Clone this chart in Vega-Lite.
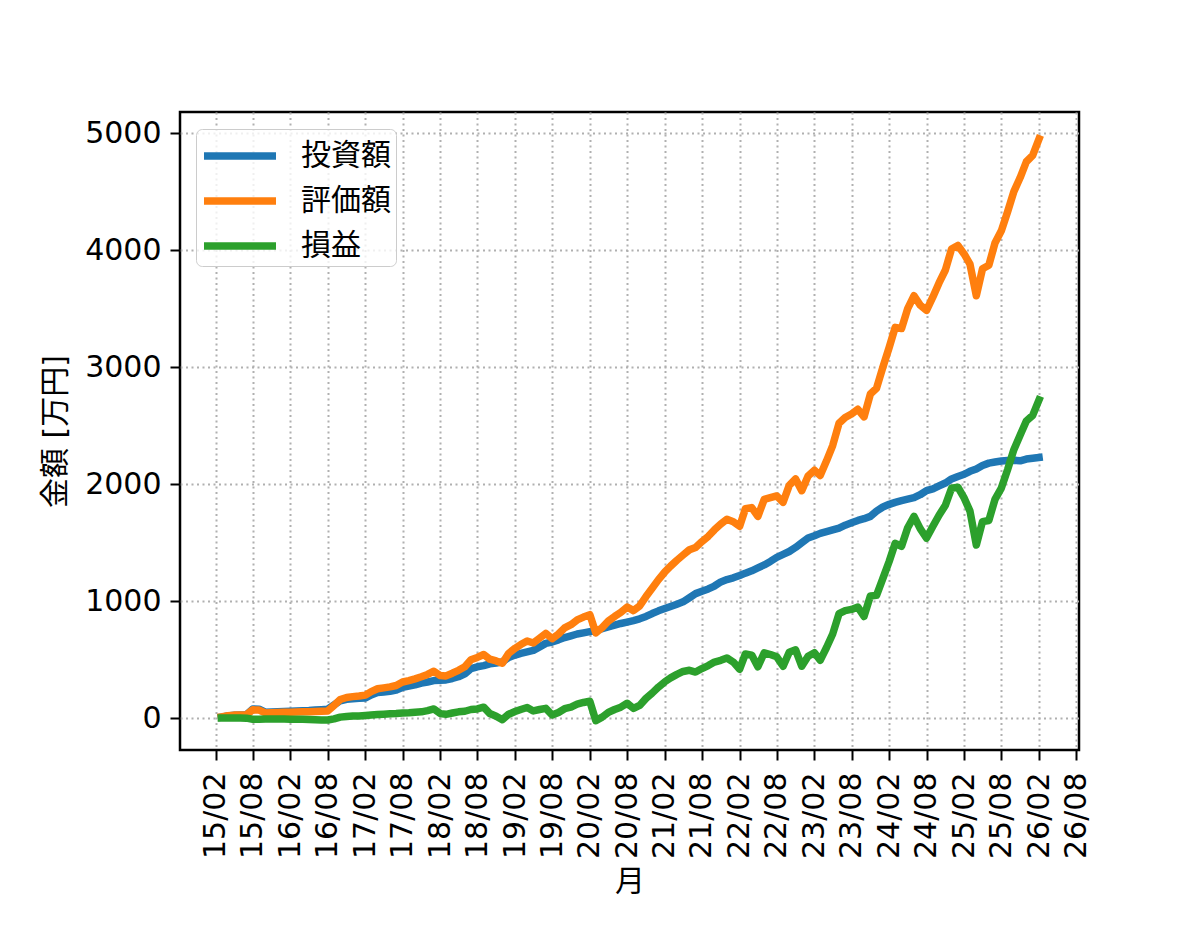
{
  "$schema": "https://vega.github.io/schema/vega-lite/v6.json",
  "width": 899,
  "height": 638,
  "autosize": "none",
  "padding": {"left": 180, "top": 112, "right": 121, "bottom": 188},
  "background": "white",
  "data": {
    "values": [
      {"date": "2015-03-01", "inv": 10, "val": 12, "pl": 2},
      {"date": "2015-04-01", "inv": 20, "val": 22, "pl": 2},
      {"date": "2015-05-01", "inv": 25, "val": 27, "pl": 2},
      {"date": "2015-06-01", "inv": 27, "val": 29, "pl": 2},
      {"date": "2015-07-01", "inv": 30, "val": 31, "pl": 1},
      {"date": "2015-08-01", "inv": 80, "val": 72, "pl": -8},
      {"date": "2015-09-01", "inv": 78, "val": 70, "pl": -8},
      {"date": "2015-10-01", "inv": 52, "val": 46, "pl": -6},
      {"date": "2015-11-01", "inv": 54, "val": 48, "pl": -6},
      {"date": "2015-12-01", "inv": 56, "val": 50, "pl": -6},
      {"date": "2016-01-01", "inv": 58, "val": 51, "pl": -7},
      {"date": "2016-02-01", "inv": 60, "val": 52, "pl": -8},
      {"date": "2016-03-01", "inv": 62, "val": 54, "pl": -8},
      {"date": "2016-04-01", "inv": 64, "val": 55, "pl": -9},
      {"date": "2016-05-01", "inv": 66, "val": 56, "pl": -10},
      {"date": "2016-06-01", "inv": 70, "val": 58, "pl": -12},
      {"date": "2016-07-01", "inv": 74, "val": 60, "pl": -14},
      {"date": "2016-08-01", "inv": 78, "val": 63, "pl": -15},
      {"date": "2016-09-01", "inv": 115, "val": 110, "pl": -5},
      {"date": "2016-10-01", "inv": 150, "val": 160, "pl": 10},
      {"date": "2016-11-01", "inv": 162, "val": 178, "pl": 16},
      {"date": "2016-12-01", "inv": 166, "val": 185, "pl": 19},
      {"date": "2017-01-01", "inv": 170, "val": 190, "pl": 20},
      {"date": "2017-02-01", "inv": 174, "val": 198, "pl": 24},
      {"date": "2017-03-01", "inv": 200, "val": 228, "pl": 28},
      {"date": "2017-04-01", "inv": 220, "val": 252, "pl": 32},
      {"date": "2017-05-01", "inv": 225, "val": 260, "pl": 35},
      {"date": "2017-06-01", "inv": 230, "val": 268, "pl": 38},
      {"date": "2017-07-01", "inv": 240, "val": 280, "pl": 40},
      {"date": "2017-08-01", "inv": 265, "val": 310, "pl": 45},
      {"date": "2017-09-01", "inv": 275, "val": 322, "pl": 47},
      {"date": "2017-10-01", "inv": 285, "val": 337, "pl": 52},
      {"date": "2017-11-01", "inv": 300, "val": 355, "pl": 55},
      {"date": "2017-12-01", "inv": 310, "val": 375, "pl": 65},
      {"date": "2018-01-01", "inv": 322, "val": 402, "pl": 80},
      {"date": "2018-02-01", "inv": 325, "val": 365, "pl": 40},
      {"date": "2018-03-01", "inv": 328, "val": 362, "pl": 34},
      {"date": "2018-04-01", "inv": 340, "val": 385, "pl": 45},
      {"date": "2018-05-01", "inv": 355, "val": 410, "pl": 55},
      {"date": "2018-06-01", "inv": 380, "val": 440, "pl": 60},
      {"date": "2018-07-01", "inv": 425, "val": 500, "pl": 75},
      {"date": "2018-08-01", "inv": 440, "val": 520, "pl": 80},
      {"date": "2018-09-01", "inv": 450, "val": 545, "pl": 95},
      {"date": "2018-10-01", "inv": 465, "val": 505, "pl": 40},
      {"date": "2018-11-01", "inv": 472, "val": 490, "pl": 18},
      {"date": "2018-12-01", "inv": 482, "val": 470, "pl": -12},
      {"date": "2019-01-01", "inv": 520, "val": 555, "pl": 35},
      {"date": "2019-02-01", "inv": 540, "val": 598, "pl": 58},
      {"date": "2019-03-01", "inv": 555, "val": 630, "pl": 75},
      {"date": "2019-04-01", "inv": 568, "val": 660, "pl": 92},
      {"date": "2019-05-01", "inv": 580, "val": 643, "pl": 63},
      {"date": "2019-06-01", "inv": 610, "val": 685, "pl": 75},
      {"date": "2019-07-01", "inv": 640, "val": 725, "pl": 85},
      {"date": "2019-08-01", "inv": 652, "val": 680, "pl": 28},
      {"date": "2019-09-01", "inv": 670, "val": 720, "pl": 50},
      {"date": "2019-10-01", "inv": 690, "val": 772, "pl": 82},
      {"date": "2019-11-01", "inv": 705, "val": 800, "pl": 95},
      {"date": "2019-12-01", "inv": 720, "val": 840, "pl": 120},
      {"date": "2020-01-01", "inv": 730, "val": 865, "pl": 135},
      {"date": "2020-02-01", "inv": 740, "val": 885, "pl": 145},
      {"date": "2020-03-01", "inv": 750, "val": 730, "pl": -20},
      {"date": "2020-04-01", "inv": 765, "val": 775, "pl": 10},
      {"date": "2020-05-01", "inv": 780, "val": 830, "pl": 50},
      {"date": "2020-06-01", "inv": 795, "val": 870, "pl": 75},
      {"date": "2020-07-01", "inv": 810, "val": 905, "pl": 95},
      {"date": "2020-08-01", "inv": 822, "val": 950, "pl": 128},
      {"date": "2020-09-01", "inv": 835, "val": 920, "pl": 85},
      {"date": "2020-10-01", "inv": 850, "val": 960, "pl": 110},
      {"date": "2020-11-01", "inv": 870, "val": 1040, "pl": 170},
      {"date": "2020-12-01", "inv": 895, "val": 1110, "pl": 215},
      {"date": "2021-01-01", "inv": 918, "val": 1185, "pl": 267},
      {"date": "2021-02-01", "inv": 938, "val": 1250, "pl": 312},
      {"date": "2021-03-01", "inv": 955, "val": 1300, "pl": 345},
      {"date": "2021-04-01", "inv": 975, "val": 1350, "pl": 375},
      {"date": "2021-05-01", "inv": 995, "val": 1395, "pl": 400},
      {"date": "2021-06-01", "inv": 1030, "val": 1440, "pl": 410},
      {"date": "2021-07-01", "inv": 1065, "val": 1460, "pl": 395},
      {"date": "2021-08-01", "inv": 1085, "val": 1510, "pl": 425},
      {"date": "2021-09-01", "inv": 1105, "val": 1555, "pl": 450},
      {"date": "2021-10-01", "inv": 1130, "val": 1610, "pl": 480},
      {"date": "2021-11-01", "inv": 1165, "val": 1660, "pl": 495},
      {"date": "2021-12-01", "inv": 1185, "val": 1700, "pl": 515},
      {"date": "2022-01-01", "inv": 1200, "val": 1680, "pl": 480},
      {"date": "2022-02-01", "inv": 1220, "val": 1640, "pl": 420},
      {"date": "2022-03-01", "inv": 1240, "val": 1790, "pl": 550},
      {"date": "2022-04-01", "inv": 1260, "val": 1800, "pl": 540},
      {"date": "2022-05-01", "inv": 1285, "val": 1725, "pl": 440},
      {"date": "2022-06-01", "inv": 1310, "val": 1870, "pl": 560},
      {"date": "2022-07-01", "inv": 1340, "val": 1885, "pl": 545},
      {"date": "2022-08-01", "inv": 1375, "val": 1900, "pl": 525},
      {"date": "2022-09-01", "inv": 1400, "val": 1845, "pl": 445},
      {"date": "2022-10-01", "inv": 1425, "val": 1990, "pl": 565},
      {"date": "2022-11-01", "inv": 1460, "val": 2045, "pl": 585},
      {"date": "2022-12-01", "inv": 1500, "val": 1945, "pl": 445},
      {"date": "2023-01-01", "inv": 1540, "val": 2070, "pl": 530},
      {"date": "2023-02-01", "inv": 1560, "val": 2120, "pl": 560},
      {"date": "2023-03-01", "inv": 1580, "val": 2075, "pl": 495},
      {"date": "2023-04-01", "inv": 1595, "val": 2200, "pl": 605},
      {"date": "2023-05-01", "inv": 1610, "val": 2330, "pl": 720},
      {"date": "2023-06-01", "inv": 1625, "val": 2520, "pl": 895},
      {"date": "2023-07-01", "inv": 1650, "val": 2570, "pl": 920},
      {"date": "2023-08-01", "inv": 1670, "val": 2600, "pl": 930},
      {"date": "2023-09-01", "inv": 1690, "val": 2640, "pl": 950},
      {"date": "2023-10-01", "inv": 1705, "val": 2575, "pl": 870},
      {"date": "2023-11-01", "inv": 1725, "val": 2770, "pl": 1045},
      {"date": "2023-12-01", "inv": 1770, "val": 2820, "pl": 1050},
      {"date": "2024-01-01", "inv": 1805, "val": 3000, "pl": 1195},
      {"date": "2024-02-01", "inv": 1828, "val": 3170, "pl": 1342},
      {"date": "2024-03-01", "inv": 1845, "val": 3340, "pl": 1495},
      {"date": "2024-04-01", "inv": 1860, "val": 3330, "pl": 1470},
      {"date": "2024-05-01", "inv": 1872, "val": 3500, "pl": 1628},
      {"date": "2024-06-01", "inv": 1885, "val": 3610, "pl": 1725},
      {"date": "2024-07-01", "inv": 1910, "val": 3530, "pl": 1620},
      {"date": "2024-08-01", "inv": 1945, "val": 3485, "pl": 1540},
      {"date": "2024-09-01", "inv": 1960, "val": 3600, "pl": 1640},
      {"date": "2024-10-01", "inv": 1985, "val": 3720, "pl": 1735},
      {"date": "2024-11-01", "inv": 2010, "val": 3830, "pl": 1820},
      {"date": "2024-12-01", "inv": 2045, "val": 4010, "pl": 1965},
      {"date": "2025-01-01", "inv": 2066, "val": 4040, "pl": 1974},
      {"date": "2025-02-01", "inv": 2085, "val": 3965, "pl": 1880},
      {"date": "2025-03-01", "inv": 2110, "val": 3880, "pl": 1770},
      {"date": "2025-04-01", "inv": 2130, "val": 3610, "pl": 1480},
      {"date": "2025-05-01", "inv": 2160, "val": 3840, "pl": 1680},
      {"date": "2025-06-01", "inv": 2180, "val": 3870, "pl": 1690},
      {"date": "2025-07-01", "inv": 2190, "val": 4060, "pl": 1870},
      {"date": "2025-08-01", "inv": 2198, "val": 4165, "pl": 1967},
      {"date": "2025-09-01", "inv": 2203, "val": 4330, "pl": 2127},
      {"date": "2025-10-01", "inv": 2205, "val": 4500, "pl": 2295},
      {"date": "2025-11-01", "inv": 2200, "val": 4620, "pl": 2420},
      {"date": "2025-12-01", "inv": 2215, "val": 4755, "pl": 2540},
      {"date": "2026-01-01", "inv": 2222, "val": 4810, "pl": 2588},
      {"date": "2026-02-01", "inv": 2229, "val": 4950, "pl": 2721}
    ]
  },
  "encoding": {
    "x": {
      "field": "date",
      "type": "temporal",
      "title": "月",
      "scale": {
        "type": "utc",
        "domain": [
          {"year": 2014, "month": 8, "date": 11, "utc": true},
          {"year": 2026, "month": 8, "date": 15, "utc": true}
        ]
      },
      "axis": {
        "format": "%y/%m",
        "labelAngle": -90,
        "labelPadding": 12,
        "titlePadding": 8,
        "values": [
          {"year": 2015, "month": 2, "date": 1, "utc": true},
          {"year": 2015, "month": 8, "date": 1, "utc": true},
          {"year": 2016, "month": 2, "date": 1, "utc": true},
          {"year": 2016, "month": 8, "date": 1, "utc": true},
          {"year": 2017, "month": 2, "date": 1, "utc": true},
          {"year": 2017, "month": 8, "date": 1, "utc": true},
          {"year": 2018, "month": 2, "date": 1, "utc": true},
          {"year": 2018, "month": 8, "date": 1, "utc": true},
          {"year": 2019, "month": 2, "date": 1, "utc": true},
          {"year": 2019, "month": 8, "date": 1, "utc": true},
          {"year": 2020, "month": 2, "date": 1, "utc": true},
          {"year": 2020, "month": 8, "date": 1, "utc": true},
          {"year": 2021, "month": 2, "date": 1, "utc": true},
          {"year": 2021, "month": 8, "date": 1, "utc": true},
          {"year": 2022, "month": 2, "date": 1, "utc": true},
          {"year": 2022, "month": 8, "date": 1, "utc": true},
          {"year": 2023, "month": 2, "date": 1, "utc": true},
          {"year": 2023, "month": 8, "date": 1, "utc": true},
          {"year": 2024, "month": 2, "date": 1, "utc": true},
          {"year": 2024, "month": 8, "date": 1, "utc": true},
          {"year": 2025, "month": 2, "date": 1, "utc": true},
          {"year": 2025, "month": 8, "date": 1, "utc": true},
          {"year": 2026, "month": 2, "date": 1, "utc": true},
          {"year": 2026, "month": 8, "date": 1, "utc": true}
        ]
      }
    }
  },
  "layer": [
    {
      "mark": {"type": "line", "strokeWidth": 7.5, "strokeJoin": "round", "strokeCap": "square"},
      "encoding": {
        "y": {
          "field": "inv",
          "type": "quantitative",
          "title": "金額 [万円]",
          "scale": {"domain": [-271, 5180], "nice": false, "zero": false},
          "axis": {"values": [0, 1000, 2000, 3000, 4000, 5000], "format": "d", "labelPadding": 9, "titlePadding": 14}
        },
        "color": {
          "datum": "投資額",
          "scale": {"domain": ["投資額", "評価額", "損益"], "range": ["#1f77b4", "#ff7f0e", "#2ca02c"]},
          "legend": {"title": null}
        }
      }
    },
    {
      "mark": {"type": "line", "strokeWidth": 7.5, "strokeJoin": "round", "strokeCap": "square"},
      "encoding": {
        "y": {"field": "val", "type": "quantitative", "title": "金額 [万円]"},
        "color": {"datum": "評価額"}
      }
    },
    {
      "mark": {"type": "line", "strokeWidth": 7.5, "strokeJoin": "round", "strokeCap": "square"},
      "encoding": {
        "y": {"field": "pl", "type": "quantitative", "title": "金額 [万円]"},
        "color": {"datum": "損益"}
      }
    }
  ],
  "config": {
    "font": "DejaVu Sans, Noto Sans CJK JP",
    "view": {"stroke": "black", "strokeWidth": 2.5},
    "axis": {
      "domain": false,
      "grid": true,
      "gridColor": "#b0b0b0",
      "gridDash": [2, 3.5],
      "gridWidth": 2,
      "tickColor": "black",
      "tickSize": 10,
      "tickWidth": 2,
      "labelColor": "black",
      "labelFont": "DejaVu Sans, Noto Sans CJK JP",
      "labelFontSize": 30,
      "titleColor": "black",
      "titleFont": "DejaVu Sans, Noto Sans CJK JP",
      "titleFontSize": 30,
      "titleFontWeight": "normal"
    },
    "legend": {
      "orient": "none",
      "legendX": 16,
      "legendY": 17,
      "padding": 5,
      "rowPadding": 8,
      "symbolType": "M-2,0H2",
      "symbolSize": 1296,
      "symbolStrokeWidth": 7.5,
      "symbolOffset": 17,
      "labelOffset": 39,
      "labelFont": "DejaVu Sans, Noto Sans CJK JP",
      "labelFontSize": 30,
      "labelColor": "black",
      "strokeColor": "#cccccc",
      "fillColor": "rgba(255,255,255,0.8)",
      "cornerRadius": 6
    }
  }
}
